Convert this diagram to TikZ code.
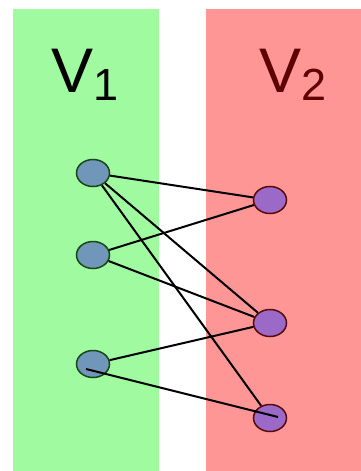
\documentclass[tikz,border=0pt]{standalone}
\usepackage{fontspec}
\setmainfont{Liberation Sans}
\usetikzlibrary{positioning,calc,shapes.geometric}
\definecolor{sideA}{RGB}{160,250,160}
\definecolor{sideB}{RGB}{255,150,150}
\definecolor{vertA}{RGB}{112,150,185}
\definecolor{vertB}{RGB}{155,105,200}
\definecolor{rimA}{RGB}{25,70,25}
\definecolor{rimB}{RGB}{90,10,10}
\definecolor{labB}{RGB}{95,0,0}
\tikzset{
  lvert/.style={draw=rimA, line width=1.5pt, ellipse, fill=vertA, minimum width=33pt, minimum height=27pt, inner sep=0pt},
  rvert/.style={draw=rimB, line width=1.5pt, ellipse, fill=vertB, minimum width=33pt, minimum height=27pt, inner sep=0pt},
  setlabel/.style={anchor=base west, inner sep=0pt, font=\fontsize{63}{63}\selectfont},
  edge/.style={black, line width=2pt}
}
\newcommand{\sublow}[1]{\lower8pt\hbox{\fontsize{45}{45}\selectfont #1}}

\begin{document}
\begin{tikzpicture}[x=1pt, y=-1pt]
  \useasboundingbox (0,0) rectangle (361,471);
  % the two sides
  \fill[sideA] (13,9) rectangle (159,471);
  \fill[sideB] (206,9) rectangle (361,471);

  \node[setlabel] (v1) at (51,92) {V\sublow{1}};
  \node[setlabel, text=labB] (v2) at (259,92) {V\sublow{2}};

  \node[lvert] (l1) at (93,173) {};
  \node[lvert] (l2) at (93,255) {};
  \node[lvert] (l3) at (93,364) {};
  \node[rvert] (r1) at (270,200) {};
  \node[rvert] (r2) at (270,323) {};
  \node[rvert] (r3) at (270,418) {};

  \draw[edge] (l1) -- (r1);
  \draw[edge] (l1) -- (r2);
  \draw[edge] (l1) -- (r3);
  \draw[edge] (l2) -- (r1);
  \draw[edge] (l2) -- (r2);
  \draw[edge] (l3) -- (r2);
  \draw[edge] ([shift={(-7,5)}]l3.center) -- ([shift={(8,-1)}]r3.center);
\end{tikzpicture}
\end{document}
